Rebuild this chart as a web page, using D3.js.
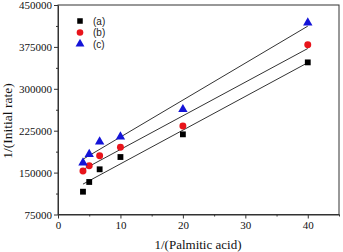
<!DOCTYPE html>
<html><head><meta charset="utf-8">
<script src="https://cdn.jsdelivr.net/npm/d3@7"></script>
<style>body{margin:0;background:#fff}svg{display:block}</style>
</head><body>
<svg id="c" width="343" height="252"></svg>
<script>
const xValues = [4, 5, 6.67, 10, 20, 40];
const seriesA = [115800, 133200, 155900, 177900, 218500, 347300];
const seriesB = [152900, 162400, 180300, 195300, 233400, 378900];
const seriesC = [167700, 182800, 205300, 214300, 263300, 418300];
const seriesNames = ["(a)", "(b)", "(c)"];
const xTicks = [0, 10, 20, 30, 40];
const yTicks = [75000, 150000, 225000, 300000, 375000, 450000];

const svg = d3.select("#c");
const L = 58, R = 339, T = 5, B = 214.5;
const x = d3.scaleLinear().domain([0, 45]).range([L, R]);
const y = d3.scaleLinear().domain([75000, 450000]).range([B, T]);
const serif = "'Liberation Serif','Times New Roman',serif";
const sans = "'Liberation Sans',Arial,sans-serif";

// frame
svg.append("rect").attr("x", L).attr("y", T).attr("width", R - L).attr("height", B - T)
  .attr("fill", "none").attr("stroke", "#333").attr("stroke-width", 1);

// x axis
const xAx = svg.append("g").attr("transform", `translate(0,${B})`)
  .call(d3.axisBottom(x).tickValues(xTicks).tickSize(4).tickSizeOuter(0).tickPadding(3));
xAx.select(".domain").attr("stroke", "#333");
xAx.selectAll(".tick line").attr("stroke", "#333");
xAx.selectAll("text").attr("font-family", serif).attr("font-size", 11).attr("fill", "#111");
svg.append("g").attr("transform", `translate(0,${B})`)
  .call(d3.axisBottom(x).tickValues([5, 15, 25, 35, 45]).tickSize(2).tickFormat(""))
  .call(g => g.select(".domain").remove())
  .selectAll("line").attr("stroke", "#333");

// y axis
const yAx = svg.append("g").attr("transform", `translate(${L},0)`)
  .call(d3.axisLeft(y).tickValues(yTicks).tickSize(4).tickSizeOuter(0).tickPadding(2).tickFormat(d3.format("d")));
yAx.select(".domain").attr("stroke", "#333");
yAx.selectAll(".tick line").attr("stroke", "#333");
yAx.selectAll("text").attr("font-family", serif).attr("font-size", 11).attr("fill", "#111");
svg.append("g").attr("transform", `translate(${L},0)`)
  .call(d3.axisLeft(y).tickValues(d3.range(112500, 450000, 75000)).tickSize(2).tickFormat(""))
  .call(g => g.select(".domain").remove())
  .selectAll("line").attr("stroke", "#333");

// titles
svg.append("text").attr("x", 198).attr("y", 248.5).attr("text-anchor", "middle")
  .attr("font-family", serif).attr("font-size", 13).attr("fill", "#111").text("1/(Palmitic acid)");
svg.append("text").attr("transform", "translate(12,121) rotate(-90)").attr("text-anchor", "middle")
  .attr("font-family", serif).attr("font-size", 13.5).attr("fill", "#111").text("1/(Initial rate)");

// fits
function fit(xs, ys) {
  const mx = d3.mean(xs), my = d3.mean(ys);
  let sxy = 0, sxx = 0;
  xs.forEach((v, i) => { sxy += (v - mx) * (ys[i] - my); sxx += (v - mx) ** 2; });
  const b = sxy / sxx; return [b, my - b * mx];
}
const series = [seriesA, seriesB, seriesC];
const colors = ["#000", "#e8141b", "#1414d8"];
const symbols = [d3.symbolSquare, d3.symbolCircle, d3.symbolTriangle];
const sizes = [34, 38, 38];
series.forEach(s => {
  const [b, a] = fit(xValues, s);
  const x0 = d3.min(xValues), x1 = d3.max(xValues);
  svg.append("line").attr("x1", x(x0)).attr("y1", y(a + b * x0)).attr("x2", x(x1)).attr("y2", y(a + b * x1))
    .attr("stroke", "#333").attr("stroke-width", 1);
});
series.forEach((s, k) => {
  svg.append("g").selectAll("path").data(s).join("path")
    .attr("transform", (d, i) => `translate(${x(xValues[i])},${y(d)})`)
    .attr("d", d3.symbol().type(symbols[k]).size(sizes[k]))
    .attr("fill", colors[k]);
});

// legend
seriesNames.forEach((n, k) => {
  const ly = 21 + k * 11.5;
  svg.append("path").attr("transform", `translate(80,${ly})`)
    .attr("d", d3.symbol().type(symbols[k]).size(sizes[k] * 0.9)).attr("fill", colors[k]);
  svg.append("text").attr("x", 93).attr("y", ly + 3.5).attr("font-family", sans).attr("font-size", 10)
    .attr("fill", "#222").text(n);
});
</script>
</body></html>
